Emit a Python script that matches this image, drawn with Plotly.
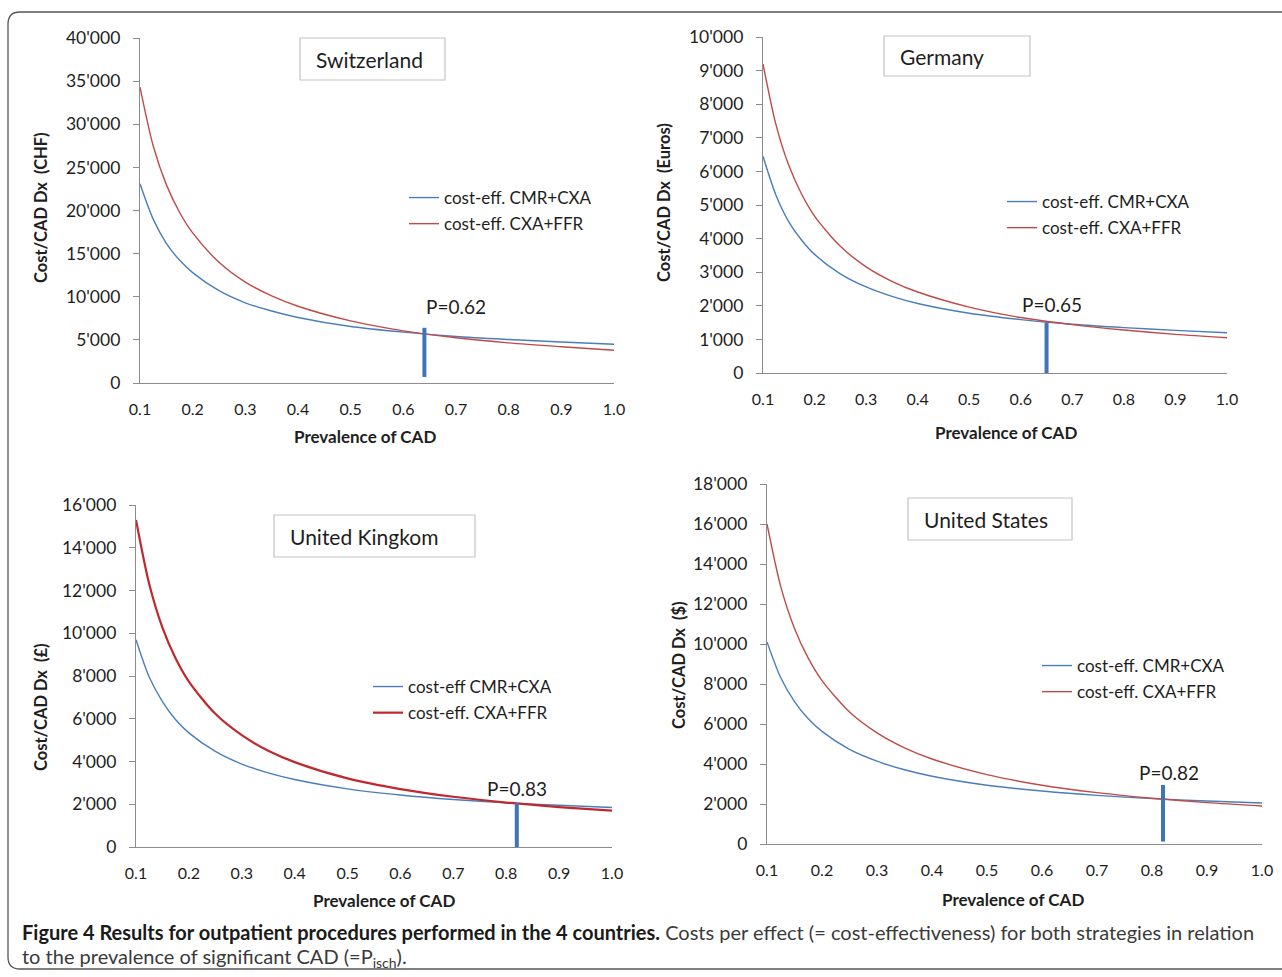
import plotly.graph_objects as go

# ---------------- data ----------------
prevalence = [0.1, 0.125, 0.15, 0.175, 0.2, 0.25, 0.3, 0.35, 0.4, 0.5, 0.6, 0.7, 0.8, 0.9, 1.0]

ch_cmr_cxa = [23100, 19000, 16200, 14250, 12800, 10700, 9300, 8350, 7600, 6550, 5900, 5400, 5050, 4750, 4500]
ch_cxa_ffr = [34300, 27500, 23000, 19800, 17400, 14000, 11700, 10100, 8900, 7200, 6050, 5250, 4650, 4200, 3800]

de_cmr_cxa = [6450, 5300, 4500, 3950, 3530, 2950, 2560, 2280, 2070, 1780, 1590, 1450, 1350, 1270, 1200]
de_cxa_ffr = [9200, 7400, 6180, 5320, 4670, 3770, 3160, 2730, 2410, 1960, 1650, 1440, 1280, 1150, 1050]

uk_cmr_cxa = [9700, 7950, 6800, 5950, 5340, 4470, 3880, 3470, 3160, 2720, 2430, 2220, 2070, 1950, 1850]
uk_cxa_ffr = [15300, 12300, 10260, 8820, 7740, 6230, 5230, 4500, 3970, 3210, 2710, 2350, 2080, 1870, 1700]

us_cmr_cxa = [10100, 8310, 7120, 6260, 5630, 4730, 4140, 3710, 3390, 2940, 2650, 2430, 2270, 2150, 2050]
us_cxa_ffr = [16000, 12870, 10780, 9290, 8170, 6600, 5560, 4810, 4250, 3470, 2940, 2570, 2290, 2070, 1900]

countries = ["Switzerland", "Germany", "United Kingkom", "United States"]
currencies = ["CHF", "Euros", "£", "$"]
legend_cmr = ["cost-eff. CMR+CXA", "cost-eff. CMR+CXA", "cost-eff CMR+CXA", "cost-eff. CMR+CXA"]
legend_ffr = ["cost-eff. CXA+FFR", "cost-eff. CXA+FFR", "cost-eff. CXA+FFR", "cost-eff. CXA+FFR"]
cross_p = [0.64, 0.65, 0.82, 0.82]
cross_top = [6400, 1500, 2060, 2950]
cross_bottom = [700, 0, 0, 120]
cross_labels = ["P=0.62", "P=0.65", "P=0.83", "P=0.82"]
y_max = [40000, 10000, 16000, 18000]
y_step = [5000, 1000, 2000, 2000]

series_cmr = [ch_cmr_cxa, de_cmr_cxa, uk_cmr_cxa, us_cmr_cxa]
series_ffr = [ch_cxa_ffr, de_cxa_ffr, uk_cxa_ffr, us_cxa_ffr]

# ---------------- layout helpers ----------------
W, H = 1282, 977
def px(x):
    return x / W
def py(y):
    return 1 - y / H

FONT = "Lato, 'Open Sans', sans-serif"
BLUE = "#4A7EBB"
RED = "#BE4B48"
MARK = "#3F75B8"
TXT = "#1e1e1e"

panels = [
    dict(xd=(140, 614), yd=(38, 383), box=(300, 38, 445, 80), leg=(404, 180),
         ylab=(41, 208), xlab=(365, 436), plab=(0.70, 8900), red=RED, redw=1.4),
    dict(xd=(763, 1227), yd=(37, 373), box=(884, 36, 1030, 76), leg=(1002, 184),
         ylab=(664, 203), xlab=(1006, 432), plab=(0.66, 2050), red=RED, redw=1.4),
    dict(xd=(136, 612), yd=(505, 847), box=(274, 515, 475, 557), leg=(368, 669),
         ylab=(41, 707), xlab=(384, 900), plab=(0.82, 2760), red="#C0282D", redw=2.2),
    dict(xd=(767, 1262), yd=(484, 844), box=(908, 498, 1072, 540), leg=(1037, 648),
         ylab=(679, 665), xlab=(1013, 899), plab=(0.83, 3600), red=RED, redw=1.4),
]

fig = go.Figure()
layout = dict(
    template="none",
    width=W, height=H, margin=dict(l=0, r=0, t=0, b=0, pad=0, autoexpand=False),
    paper_bgcolor="white", plot_bgcolor="white",
    separators=".'",
    font=dict(family=FONT, size=15, color=TXT),
    showlegend=True,
)
annotations = []
shapes = []

for i, pnl in enumerate(panels):
    n = "" if i == 0 else str(i + 1)
    xa, ya = "x" + n, "y" + n
    legname = "legend" + n
    fig.add_trace(go.Scatter(
        x=prevalence, y=series_cmr[i], mode="lines", name=legend_cmr[i],
        line=dict(color=BLUE, width=1.4, shape="spline", smoothing=0.8),
        xaxis=xa, yaxis=ya, legend=legname, legendgroup=f"a{i}", hoverinfo="skip"))
    fig.add_trace(go.Scatter(
        x=prevalence, y=series_ffr[i], mode="lines", name=legend_ffr[i],
        line=dict(color=pnl["red"], width=pnl["redw"], shape="spline", smoothing=0.8),
        xaxis=xa, yaxis=ya, legend=legname, legendgroup=f"b{i}", hoverinfo="skip"))
    fig.add_trace(go.Scatter(
        x=[cross_p[i], cross_p[i]], y=[cross_bottom[i], cross_top[i]], mode="lines",
        line=dict(color=MARK, width=4), showlegend=False,
        xaxis=xa, yaxis=ya, hoverinfo="skip"))

    layout["xaxis" + n] = dict(
        domain=[px(pnl["xd"][0]), px(pnl["xd"][1])], anchor=ya, automargin=False,
        range=[0.1, 1.0], tickvals=[0.1 * k for k in range(1, 11)], tickformat=".1f",
        showline=True, linecolor="#8c8c8c", linewidth=1.2, ticks="",
        showgrid=False, zeroline=False, ticklabelstandoff=12,
        tickfont=dict(family=FONT, size=16, color=TXT))
    layout["yaxis" + n] = dict(
        domain=[py(pnl["yd"][1]), py(pnl["yd"][0])], anchor=xa, automargin=False,
        range=[0, y_max[i]], dtick=y_step[i], tick0=0, tickformat=",d",
        showline=True, linecolor="#8c8c8c", linewidth=1.2, ticks="outside",
        ticklen=6, tickcolor="#8c8c8c", showgrid=False, zeroline=False,
        ticklabelstandoff=9, tickfont=dict(family=FONT, size=17.5, color=TXT))
    layout[legname] = dict(
        x=px(pnl["leg"][0]), y=py(pnl["leg"][1]), xanchor="left", yanchor="top",
        bgcolor="rgba(0,0,0,0)", borderwidth=0, tracegroupgap=1,
        font=dict(family=FONT, size=17, color=TXT))

    bx0, by0, bx1, by1 = pnl["box"]
    shapes.append(dict(type="rect", xref="paper", yref="paper",
                       x0=px(bx0), x1=px(bx1), y0=py(by1), y1=py(by0),
                       line=dict(color="#c4c4c4", width=1.2), fillcolor="white", layer="below"))
    annotations.append(dict(
        text=countries[i], x=px(bx0 + 14), y=py((by0 + by1) / 2), xref="paper", yref="paper",
        xanchor="left", yanchor="middle", showarrow=False,
        font=dict(family=FONT, size=21, color=TXT)))
    annotations.append(dict(
        text=f"<b>Cost/CAD Dx  ({currencies[i]})</b>", x=px(pnl["ylab"][0]),
        y=py(pnl["ylab"][1]), xref="paper", yref="paper", textangle=-90,
        xanchor="center", yanchor="middle",
        showarrow=False, font=dict(family=FONT, size=16.5, color=TXT)))
    annotations.append(dict(
        text="<b>Prevalence of CAD</b>", x=px(pnl["xlab"][0]), y=py(pnl["xlab"][1]),
        xref="paper", yref="paper", xanchor="center", yanchor="middle", showarrow=False,
        font=dict(family=FONT, size=17, color=TXT)))
    annotations.append(dict(
        text=cross_labels[i], x=pnl["plab"][0], y=pnl["plab"][1],
        xref=xa, yref=ya, xanchor="center", yanchor="middle", showarrow=False,
        font=dict(family=FONT, size=19, color=TXT)))

# caption
annotations.append(dict(
    text=("<b>Figure 4 Results for outpatient procedures performed in the 4 countries.</b> "
          "<span style='color:#3a3a3a'>Costs per effect (= cost-effectiveness) for both strategies in relation</span>"),
    x=px(20), y=py(932), xref="paper", yref="paper", xanchor="left", yanchor="middle",
    showarrow=False, font=dict(family=FONT, size=20, color="#1a1a1a")))
annotations.append(dict(
    text="<span style='color:#3a3a3a'>to the prevalence of significant CAD (=P<sub>isch</sub>).</span>",
    x=px(20), y=py(957), xref="paper", yref="paper", xanchor="left", yanchor="middle",
    showarrow=False, font=dict(family=FONT, size=20, color="#1a1a1a")))

# figure border (rounded left corners)
x0, yt, yb = px(8), py(12), py(969)
rx, ry = px(12), 12 / H
path = (f"M 1.02,{yt} L {x0 + rx},{yt} Q {x0},{yt} {x0},{yt - ry} "
        f"L {x0},{yb + ry} Q {x0},{yb} {x0 + rx},{yb} L 1.02,{yb}")
shapes.append(dict(type="path", xref="paper", yref="paper", path=path,
                   line=dict(color="#555", width=1.3)))

layout["annotations"] = annotations
layout["shapes"] = shapes
fig.update_layout(**layout)
fig.write_html("out.html", config={"displayModeBar": False, "staticPlot": True},
               post_script="document.body.style.margin='0';document.body.style.overflow='hidden';")
